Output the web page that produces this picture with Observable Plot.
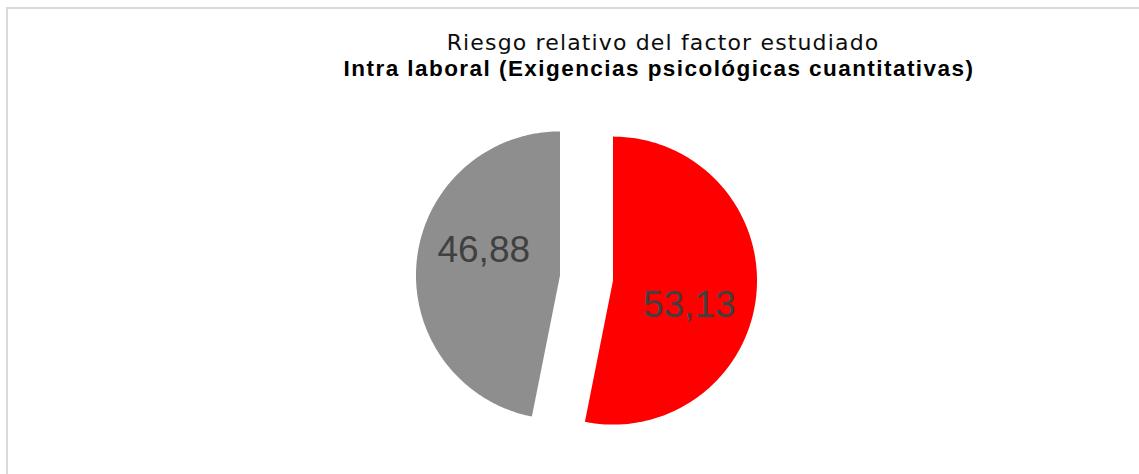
<!DOCTYPE html>
<html>
<head>
<meta charset="utf-8">
<script src="https://cdn.jsdelivr.net/npm/d3@7"></script>
<script src="https://cdn.jsdelivr.net/npm/@observablehq/plot@0.6"></script>
<style>
  html, body { margin: 0; padding: 0; background: #fff; overflow: hidden; width: 1139px; height: 474px; }
  #frame { position: absolute; left: 6px; top: 7px; width: 1400px; height: 600px;
           border-left: 2px solid #d9d9d9; border-top: 2px solid #d9d9d9; box-sizing: border-box; }
  .t { position: absolute; left: 0; text-align: center; line-height: 26px; white-space: nowrap; }
  #t1 { top: 30px; width: 1326px; font-family: "DejaVu Sans", sans-serif; font-size: 22px;
        letter-spacing: 1.15px; font-weight: 400; color: #0d0d0d; }
  #t2 { top: 56px; width: 1318px; font-family: "Liberation Sans", Arial, sans-serif; font-size: 22.5px;
        letter-spacing: 1.45px; font-weight: 700; color: #000; }
  #chart { position: absolute; left: 0; top: 100px; }
</style>
</head>
<body>
<div id="frame"></div>
<div class="t" id="t1">Riesgo relativo del factor estudiado</div>
<div class="t" id="t2">Intra laboral (Exigencias psicológicas cuantitativas)</div>
<div id="chart"></div>
<script>
// ---- data ----
const categories = ["Riesgo", "Sin riesgo"];
const values = [53.13, 46.88];
const colors = ["#ff0000", "#8e8e8e"];

// ---- layout (pixels) ----
const W = 1139, H = 374;
const R = 144;              // pie radius in px
const cx = 586, cy = 177.5; // pie centre in svg px
const explode = 0.185;      // explosion offset, in radii
const labelR = 0.557;       // label distance from slice vertex, in radii
const labelRot = 12.5 * Math.PI / 180;

const arcs = d3.pie().sort(null).startAngle(0).endAngle(2 * Math.PI)(values);

const points = [];
const labels = [];
arcs.forEach((a, i) => {
  const mid = (a.startAngle + a.endAngle) / 2;
  const ox = explode * Math.sin(mid), oy = explode * Math.cos(mid);
  const n = Math.max(2, Math.ceil((a.endAngle - a.startAngle) / (2 * Math.PI) * 360));
  points.push({name: categories[i], x: ox, y: oy});
  for (let k = 0; k <= n; k++) {
    const t = a.startAngle + (a.endAngle - a.startAngle) * k / n;
    points.push({name: categories[i], x: ox + Math.sin(t), y: oy + Math.cos(t)});
  }
  points.push({name: categories[i], x: ox, y: oy});
  labels.push({
    name: categories[i],
    text: values[i].toFixed(2).replace(".", ","),
    x: ox + labelR * Math.sin(mid + labelRot),
    y: oy + labelR * Math.cos(mid + labelRot)
  });
});

const chart = Plot.plot({
  width: W,
  height: H,
  margin: 0,
  x: {type: "linear", domain: [-cx / R, (W - cx) / R], range: [0, W], axis: null},
  y: {type: "linear", domain: [-(H - cy) / R, cy / R], range: [H, 0], axis: null},
  marks: [
    ...categories.map((c, i) =>
      Plot.line(points.filter(p => p.name === c), {x: "x", y: "y", fill: colors[i], stroke: "none"})
    ),
    Plot.text(labels, {x: "x", y: "y", text: "text", fontSize: 37, fill: "#404040",
      fontFamily: "Liberation Sans, Arial, sans-serif"})
  ]
});
document.getElementById("chart").appendChild(chart);
</script>
</body>
</html>
